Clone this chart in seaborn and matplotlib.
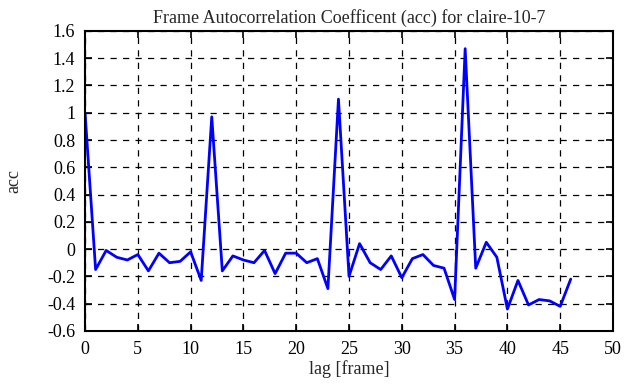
#!/usr/bin/env python3

import numpy as np
import pandas as pd
import matplotlib
matplotlib.use("Agg")
import matplotlib.pyplot as plt
import seaborn as sns

# autocorrelation values, lag 0..46
lags = list(range(47))
acc = [
    1.00, -0.15, -0.01, -0.06, -0.08, -0.04, -0.16, -0.03, -0.10, -0.09,
    -0.02, -0.23, 0.97, -0.16, -0.05, -0.08, -0.10, -0.01, -0.18, -0.03,
    -0.03, -0.10, -0.07, -0.29, 1.10, -0.20, 0.04, -0.10, -0.15, -0.05,
    -0.21, -0.07, -0.04, -0.12, -0.14, -0.37, 1.47, -0.14, 0.05, -0.06,
    -0.44, -0.23, -0.41, -0.37, -0.38, -0.42, -0.22,
]
xticks = list(range(0, 51, 5))
yticks = [-0.6, -0.4, -0.2, 0, 0.2, 0.4, 0.6, 0.8, 1, 1.2, 1.4, 1.6]
ytick_labels = ["-0.6", "-0.4", "-0.2", "0", "0.2", "0.4", "0.6", "0.8", "1", "1.2", "1.4", "1.6"]

df = pd.DataFrame({"lag": lags, "acc": acc})

sns.set_style("white")
plt.rcParams["font.family"] = ["Liberation Serif", "DejaVu Serif"]
plt.rcParams["font.size"] = 13

fig = plt.figure(figsize=(6.3, 3.87), dpi=100)
ax = fig.add_axes([0.135, 0.145, 0.838, 0.775])

sns.lineplot(data=df, x="lag", y="acc", color="#0000ff", lw=2, ax=ax)

ax.set_xlim(0, 50)
ax.set_ylim(-0.6, 1.6)
ax.set_xticks(xticks)
ax.set_yticks(yticks)
ax.set_yticklabels(ytick_labels)
ax.grid(True, color="black", linestyle=(0, (5, 5)), lw=0.9)
ax.set_axisbelow(True)
ax.tick_params(direction="in", length=5, width=1.2, top=True, right=True,
               bottom=True, left=True, labelsize=13, colors="black", pad=7)
for s in ax.spines.values():
    s.set_linewidth(1.5)
    s.set_color("black")

ax.set_xlabel("lag [frame]", fontsize=13, labelpad=2)
ax.set_ylabel("acc", fontsize=13, labelpad=18)
ax.set_title("Frame Autocorrelation Coefficent (acc) for claire-10-7", fontsize=13, pad=6)

fig.savefig("out.png", dpi=100)
